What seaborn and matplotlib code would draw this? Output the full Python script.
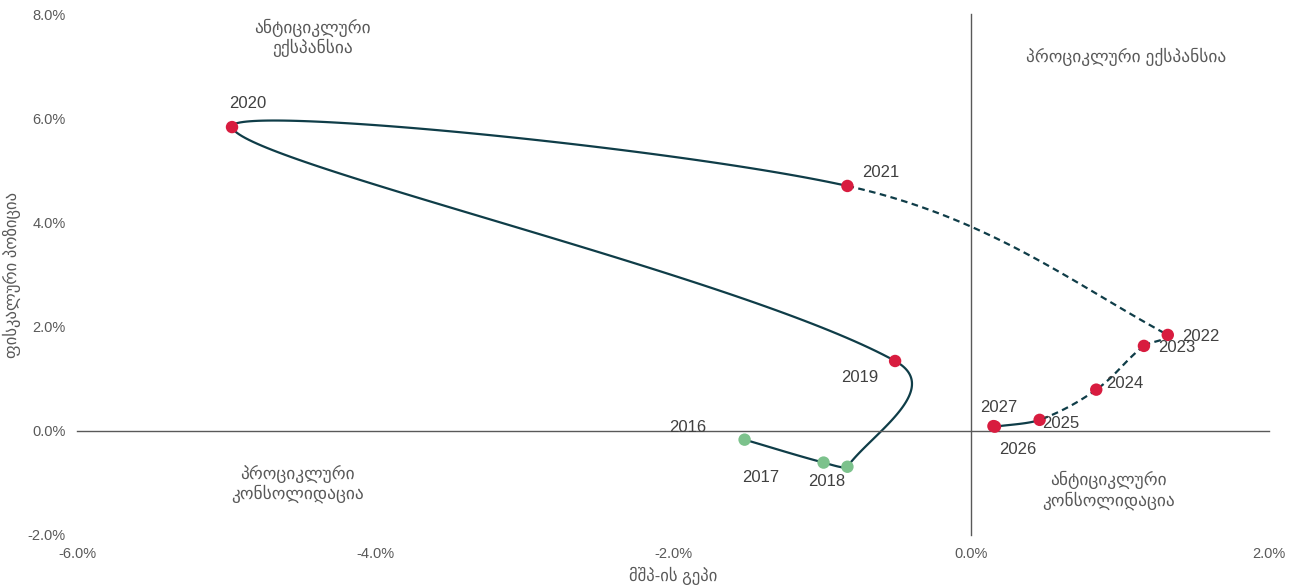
import numpy as np
import pandas as pd
import matplotlib.pyplot as plt
import seaborn as sns

# Data (percent)
years = [2016, 2017, 2018, 2019, 2020, 2021, 2022, 2023, 2024, 2025, 2026, 2027]
output_gap = [-1.52, -0.99, -0.83, -0.51, -4.96, -0.83, 1.32, 1.16, 0.84, 0.46, 0.16, 0.15]
fiscal_stance = [-0.17, -0.61, -0.69, 1.34, 5.83, 4.70, 1.84, 1.63, 0.79, 0.21, 0.08, 0.09]
period = ['actual'] * 3 + ['main'] * 9
segment_style = ['-'] * 5 + ['--'] * 4 + ['-'] * 2

# label offsets in pixels (dx, dy)
label_offsets = [(-57, 12), (-63, -15), (-21, -15), (-35, -17), (16, 24), (33, 13),
                 (33, -2), (33, -2), (28, 6), (21, -4), (23, -23), (5, 19)]

quadrant_labels = ['ანტიციკლური\nექსპანსია', 'პროციკლური ექსპანსია',
                   'პროციკლური\nკონსოლიდაცია', 'ანტიციკლური\nკონსოლიდაცია']
quadrant_pos = [(-4.42, 7.54), (1.04, 7.17), (-4.52, -1.02), (0.92, -1.14)]

x_ticks = [-6, -4, -2, 0, 2]
y_ticks = [-2, 0, 2, 4, 6, 8]

df = pd.DataFrame({'year': years, 'gap': output_gap, 'stance': fiscal_stance, 'period': period})

sns.set_style('white')
plt.rcParams['font.family'] = ['Liberation Sans', 'DejaVu Sans']

line_color = '#0f3d48'
text_color = '#404040'
axis_color = '#595959'

fig = plt.figure(figsize=(12.95, 5.87), dpi=100)
ax = fig.add_axes([0.0595, 0.0886, 0.9205, 0.8875])


# Excel-like smoothed line: bezier segments, tangents split by neighbouring segment lengths
def bezier_segments(xs, ys, n=80):
    pts = np.column_stack([xs, ys])
    m = len(pts)
    segs = []
    for i in range(m - 1):
        p1, p2 = pts[i], pts[i + 1]
        d12 = np.linalg.norm(p2 - p1)
        # control leaving p1
        if i > 0:
            p0 = pts[i - 1]
            d01 = np.linalg.norm(p1 - p0)
            w = 2 * d12 / (d01 + d12) if d01 + d12 > 0 else 0
            c1 = p1 + (p2 - p0) / 6 * w
        else:
            c1 = p1 + (p2 - p1) / 3
        # control entering p2
        if i + 2 < m:
            p3 = pts[i + 2]
            d23 = np.linalg.norm(p3 - p2)
            w = 2 * d12 / (d12 + d23) if d12 + d23 > 0 else 0
            c2 = p2 - (p3 - p1) / 6 * w
        else:
            c2 = p2 - (p2 - p1) / 3
        t = np.linspace(0, 1, n)[:, None]
        seg = ((1 - t) ** 3) * p1 + 3 * ((1 - t) ** 2) * t * c1 + 3 * (1 - t) * t ** 2 * c2 + t ** 3 * p2
        segs.append(seg)
    return segs


for seg, ls in zip(bezier_segments(df['gap'].values, df['stance'].values), segment_style):
    ax.plot(seg[:, 0], seg[:, 1], color=line_color, lw=1.6, ls=ls, zorder=2,
            dashes=(3, 2) if ls == '--' else (None, None))

sns.scatterplot(data=df, x='gap', y='stance', hue='period',
                palette={'actual': '#7cc28c', 'main': '#d81c3f'},
                s=80, edgecolor='none', legend=False, zorder=3, ax=ax)

for yr, gx, fy, (dx, dy) in zip(years, output_gap, fiscal_stance, label_offsets):
    ax.annotate(str(yr), (gx, fy), xytext=(dx, dy), textcoords='offset pixels',
                ha='center', va='center', fontsize=12, color=text_color)

for txt, (qx, qy) in zip(quadrant_labels, quadrant_pos):
    ax.text(qx, qy, txt, ha='center', va='center', fontsize=12.5, color=axis_color,
            linespacing=1.15)

ax.set_xlim(-6, 2)
ax.set_ylim(-2, 8)
ax.set_xticks(x_ticks)
ax.set_yticks(y_ticks)

# axes cross at zero, tick marks on the zero lines
ax.spines['left'].set_position(('data', 0))
ax.spines['bottom'].set_position(('data', 0))
ax.spines['top'].set_visible(False)
ax.spines['right'].set_visible(False)
for sp in ['left', 'bottom']:
    ax.spines[sp].set_color(axis_color)
    ax.spines[sp].set_linewidth(1.0)
ax.tick_params(axis='both', direction='out', length=5, width=1, color=axis_color,
               labelbottom=False, labelleft=False)
ax.set_xlabel('')
ax.set_ylabel('')

# tick labels at the outer edges
lab = fig.add_axes(ax.get_position(), sharex=ax, sharey=ax)
lab.set_frame_on(False)
lab.patch.set_visible(False)
lab.tick_params(axis='both', length=0, labelsize=10.5, labelcolor=axis_color)
lab.tick_params(axis='x', pad=9)
lab.tick_params(axis='y', pad=8)
lab.xaxis.set_major_formatter(lambda v, p: f'{v:.1f}%')
lab.yaxis.set_major_formatter(lambda v, p: f'{v:.1f}%')
lab.set_xlabel('მშპ-ის გეპი', fontsize=12, color=axis_color, labelpad=4)
lab.set_ylabel('ფისკალური პოზიცია', fontsize=12, color=axis_color, labelpad=5)

fig.savefig('out.png', dpi=100)
